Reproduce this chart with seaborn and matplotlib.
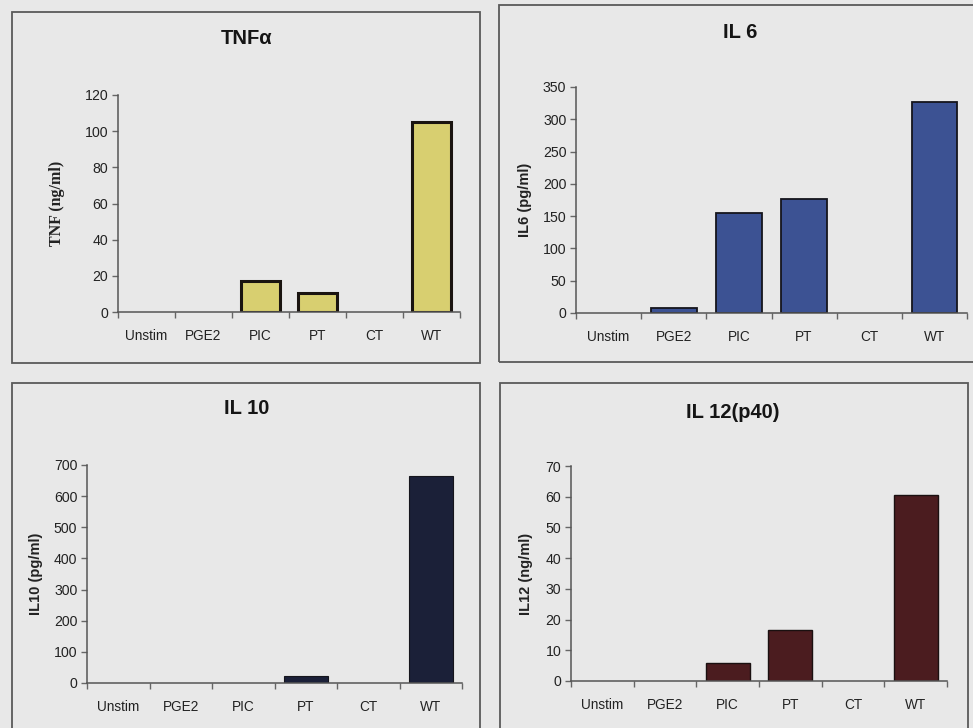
import matplotlib
matplotlib.use("Agg")
import matplotlib.pyplot as plt
import seaborn as sns
import pandas as pd
from matplotlib.patches import Rectangle

# ---------------------------------------------
# data
# ---------------------------------------------
groups = ["Unstim", "PGE2", "PIC", "PT", "CT", "WT"]

tnf_vals = [0, 0, 17, 10.5, 0, 105]
il6_vals = [0, 7, 155, 176, 0, 326]
il10_vals = [0, 0, 0, 23, 0, 665]
il12_vals = [0, 0, 5.7, 16.5, 0, 60.5]

titles = ["TNF\u03b1", "IL 6", "IL 10", "IL 12(p40)"]
ylabels = ["TNF (ng/ml)", "IL6 (pg/ml)", "IL10 (pg/ml)", "IL12 (ng/ml)"]
ymax = [120, 350, 700, 70]
ystep = [20, 50, 100, 10]
colors = ["#d8cf70", "#3c5293", "#1b2038", "#4b1c1f"]
edges = ["#1a1410", "#15151c", "#15151c", "#1a1010"]
edge_w = [2.2, 1.3, 0.8, 1.0]

W, H = 973, 728
BG = "#e8e8e8"

sns.set_style("white")
plt.rcParams["font.family"] = ["Liberation Sans", "DejaVu Sans"]

fig = plt.figure(figsize=(W / 100, H / 100), dpi=100, facecolor=BG)

def px_axes(x0, y0, x1, y1):
    # pixel box (top-left origin) -> figure axes
    return fig.add_axes([x0 / W, 1 - y1 / H, (x1 - x0) / W, (y1 - y0) / H])

# panel frames
frames = [(12, 12, 480, 363), (499, 5, 980, 362),
          (12, 383, 480, 740), (500, 383, 968, 740)]
for (x0, y0, x1, y1) in frames:
    fig.patches.append(Rectangle((x0 / W, 1 - y1 / H), (x1 - x0) / W, (y1 - y0) / H,
                                 transform=fig.transFigure, fill=False,
                                 edgecolor="#5a5a5a", linewidth=1.3))

# plot areas in pixels
boxes = [(118, 95, 460, 312), (576, 87, 967, 313),
         (87, 465, 462, 683), (571, 466, 947, 681)]
title_pos = [(247, 38), (740, 33), (247, 409), (733, 413)]
ylab_x = [65, 532, 43, 533]
series = [tnf_vals, il6_vals, il10_vals, il12_vals]

for i in range(4):
    ax = px_axes(*boxes[i])
    ax.set_facecolor("none")
    df = pd.DataFrame({"group": groups, "value": series[i]})
    sns.barplot(data=df, x="group", y="value", ax=ax, color=colors[i],
                saturation=1, width=0.7, edgecolor=edges[i], linewidth=edge_w[i])
    # empty bars leave no outline
    for p in ax.patches:
        if p.get_height() == 0:
            p.set_linewidth(0)
    ax.set_xlim(-0.5, 5.5)
    ax.set_ylim(0, ymax[i])
    ax.set_yticks(range(0, ymax[i] + 1, ystep[i]))
    ax.set_xlabel("")
    # category boundary ticks
    ax.set_xticks([k - 0.5 for k in range(7)], minor=True)
    ax.tick_params(axis="x", which="major", length=0, pad=12, labelsize=9.8,
                   colors="#222222")
    ax.tick_params(axis="x", which="minor", length=4, width=1, color="#666666",
                   direction="out", bottom=True)
    ax.tick_params(axis="y", length=4, width=1, color="#666666", direction="out",
                   left=True, labelsize=10.2, colors="#222222", pad=3)
    sns.despine(ax=ax)
    for s in ["left", "bottom"]:
        ax.spines[s].set_color("#555555")
        ax.spines[s].set_linewidth(1.1)

    if i == 0:
        ax.set_ylabel(ylabels[i], family="Liberation Serif", fontweight="bold",
                      fontsize=11.5, color="#222222")
    else:
        ax.set_ylabel(ylabels[i], fontweight="bold", fontsize=10.5, color="#222222")
    # place y label at its pixel x
    yl_mid = (boxes[i][1] + boxes[i][3]) / 2
    ax.yaxis.set_label_coords(ylab_x[i] / W, 1 - yl_mid / H, transform=fig.transFigure)

    tx, ty = title_pos[i]
    fig.text(tx / W, 1 - ty / H, titles[i], ha="center", va="center",
             fontsize=14.5, fontweight="bold", color="#151515")

fig.savefig("out.png", dpi=100, facecolor=BG)
